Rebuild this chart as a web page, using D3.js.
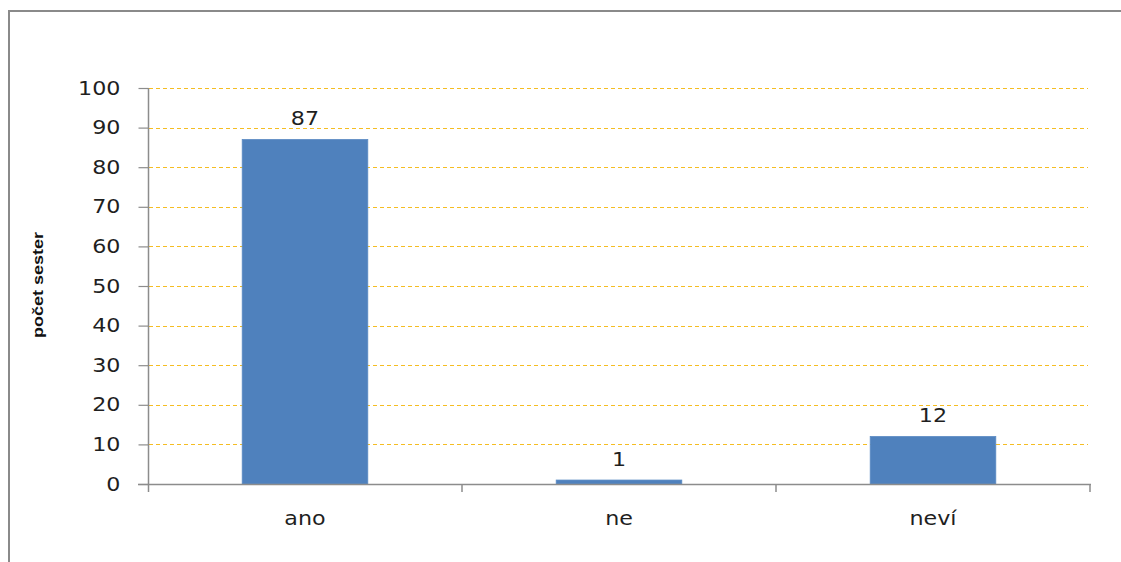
<!DOCTYPE html>
<html>
<head>
<meta charset="utf-8">
<script src="https://cdn.jsdelivr.net/npm/d3@7/dist/d3.min.js"></script>
<style>
  html, body { margin: 0; padding: 0; background: #fff; }
  svg { display: block; }
</style>
</head>
<body>
<svg id="chart" width="1121" height="562"></svg>
<script>
// Answers and counts of nurses
const categories = ["ano", "ne", "neví"];
const counts = [87, 1, 12];
const yTicks = [0, 10, 20, 30, 40, 50, 60, 70, 80, 90, 100];
const yTitle = "počet sester";

const svg = d3.select("#chart");
const plot = { left: 148, right: 1090, top: 88, bottom: 484 };
const stretch = 1.17;
const font = "'DejaVu Sans', Verdana, sans-serif";
const textColor = "#1f1f1f";
const axisColor = "#8c8c8c";

// outer chart frame (continues past the page edges)
svg.append("rect")
  .attr("x", 9).attr("y", 11)
  .attr("width", 1300).attr("height", 800)
  .attr("fill", "none")
  .attr("stroke", "#8a8a8a")
  .attr("stroke-width", 2);

const x = d3.scaleBand()
  .domain(categories)
  .range([plot.left, plot.right])
  .paddingInner(0.6)
  .paddingOuter(0.3);

const y = d3.scaleLinear()
  .domain([0, 100])
  .range([plot.bottom, plot.top]);

// dashed gridlines
svg.append("g")
  .selectAll("line")
  .data(yTicks.filter(d => d > 0))
  .join("line")
  .attr("x1", plot.left + 1).attr("x2", plot.right - 2)
  .attr("y1", d => Math.round(y(d)) + 0.5)
  .attr("y2", d => Math.round(y(d)) + 0.5)
  .attr("stroke", "#f5bd22")
  .attr("stroke-width", 1)
  .attr("stroke-dasharray", "4,3");

// bars
svg.append("g")
  .selectAll("rect")
  .data(counts)
  .join("rect")
  .attr("x", (d, i) => x(categories[i]))
  .attr("width", x.bandwidth())
  .attr("y", d => y(d))
  .attr("height", d => y(0) - y(d))
  .attr("fill", "#4f81bd")
  .attr("stroke", "#5b8bc4")
  .attr("stroke-width", 0.8);

// y axis
const yAxis = d3.axisLeft(y).tickValues(yTicks).tickSize(10).tickPadding(18);
const gy = svg.append("g")
  .attr("transform", `translate(${plot.left + 0.5},0)`)
  .call(yAxis);
gy.select(".domain").attr("stroke", axisColor).attr("stroke-width", 1.5)
  .attr("d", `M0,${plot.top}V${plot.bottom + 8}`);
gy.selectAll(".tick line").attr("stroke", axisColor).attr("stroke-width", 1.2);
gy.selectAll(".tick text")
  .attr("font-family", font)
  .attr("font-size", 19)
  .attr("fill", textColor)
  .each(function () {
    const t = d3.select(this);
    const xPos = +t.attr("x");
    t.attr("x", null)
      .attr("transform", `translate(${xPos},0) scale(${stretch},1)`);
  });

// x axis
const xTickPos = categories.map(c => x(c) + x.bandwidth() / 2 + x.step() / 2);
const gx = svg.append("g");
gx.append("line")
  .attr("x1", plot.left - 10).attr("x2", plot.right + 1)
  .attr("y1", plot.bottom + 0.5).attr("y2", plot.bottom + 0.5)
  .attr("stroke", axisColor).attr("stroke-width", 1.5);
gx.selectAll("line.tick")
  .data(xTickPos)
  .join("line")
  .attr("class", "tick")
  .attr("x1", d => d).attr("x2", d => d)
  .attr("y1", plot.bottom).attr("y2", plot.bottom + 8)
  .attr("stroke", axisColor).attr("stroke-width", 1.5);

// category labels
gx.selectAll("text")
  .data(categories)
  .join("text")
  .attr("transform", d => `translate(${x(d) + x.bandwidth() / 2},${plot.bottom + 41}) scale(${stretch},1)`)
  .attr("text-anchor", "middle")
  .attr("font-family", font)
  .attr("font-size", 19)
  .attr("fill", textColor)
  .text(d => d);

// value labels
svg.append("g")
  .selectAll("text")
  .data(counts)
  .join("text")
  .attr("transform", (d, i) => `translate(${x(categories[i]) + x.bandwidth() / 2},${y(d) - 14}) scale(${stretch},1)`)
  .attr("text-anchor", "middle")
  .attr("font-family", font)
  .attr("font-size", 19)
  .attr("fill", textColor)
  .text(d => d);

// y axis title
svg.append("text")
  .attr("transform", "translate(43,285) scale(0.82,1) rotate(-90)")
  .attr("text-anchor", "middle")
  .attr("font-family", "'Liberation Sans', Arial, sans-serif")
  .attr("font-weight", "bold")
  .attr("font-size", 18)
  .attr("fill", "#111")
  .text(yTitle);
</script>
</body>
</html>
